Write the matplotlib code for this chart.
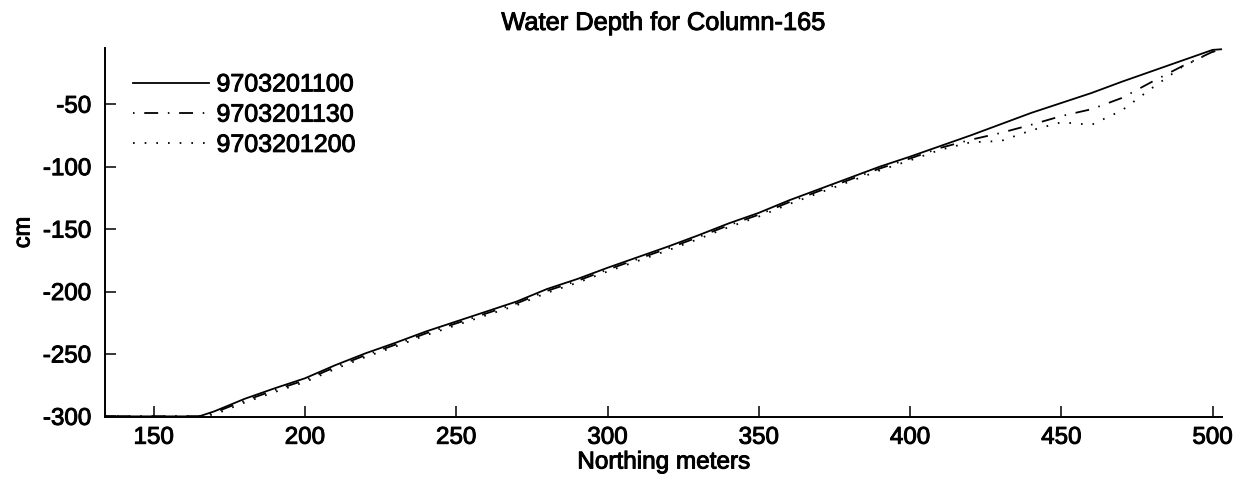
import matplotlib
matplotlib.use("Agg")
import matplotlib.pyplot as plt
import matplotlib.patheffects as pe

plt.rcParams['font.family'] = ['Liberation Sans', 'DejaVu Sans']
plt.rcParams['lines.scale_dashes'] = False
plt.rcParams['axes.unicode_minus'] = False

northing = [134, 165, 170, 180, 190, 200, 210, 220, 230, 240, 250, 260, 270, 280,
            290, 300, 310, 320, 330, 340, 350, 360, 370, 380, 390, 400, 410, 420,
            430, 440, 450, 460, 470, 480, 490, 500, 503]

depth_1100 = [-300, -300, -296, -286, -277.5, -269.5, -259, -249.5, -241, -232, -224,
              -216, -208, -198, -190, -181, -172.5, -164, -155, -145.5, -137, -127,
              -118, -109, -100, -92, -83.5, -75, -66, -57, -49, -41, -32, -23.5,
              -15, -6.5, -6]

depth_1130 = [-300, -300, -297, -287.5, -279, -271, -260.5, -251, -242.5, -233.5,
              -225.5, -217.5, -209.5, -199.5, -191.5, -182.5, -174, -165.5, -156.5,
              -147, -138.5, -128.5, -119.5, -110.5, -101.5, -93.5, -85, -78.5, -73,
              -66.5, -59.5, -54, -45, -32, -19.5, -8, -6.5]

depth_1200 = [-300, -300, -298.5, -289, -280.5, -272.5, -262, -252.5, -244, -235,
              -227, -219, -211, -201, -193, -184, -175.5, -167, -158, -148.5, -140,
              -130, -121, -112, -103, -95, -86.5, -80.5, -79.5, -71, -64.5, -66.5,
              -55, -37, -20, -8, -6.5]

labels = ['9703201100', '9703201130', '9703201200']

W, H = 1246, 488
fig = plt.figure(figsize=(W / 100, H / 100), dpi=100)
ax = fig.add_axes([105.3 / W, 1 - 417 / H, (1221.7 - 105.3) / W, (417 - 48) / H])

lw = 1.3
ax.plot(northing, depth_1100, color='black', lw=lw, linestyle='-', label=labels[0])
ax.plot(northing, depth_1130, color='black', lw=lw,
        linestyle=(0, (1.1, 7.0, 10.0, 7.0)), label=labels[1])
ax.plot(northing, depth_1200, color='black', lw=lw,
        linestyle=(0, (1.2, 7.2)), label=labels[2])

ax.set_xlim(134, 503)
ax.set_ylim(-300.5, -5)
ax.set_xticks([150, 200, 250, 300, 350, 400, 450, 500])
ax.set_yticks([-300, -250, -200, -150, -100, -50])

for s in ['top', 'right']:
    ax.spines[s].set_visible(False)
for s in ['left', 'bottom']:
    ax.spines[s].set_linewidth(1.4)

ax.tick_params(axis='both', direction='in', length=8, width=1.1, labelsize=17.4)
ax.tick_params(axis='y', pad=10)
ax.tick_params(axis='x', pad=7)

thick = [pe.withStroke(linewidth=0.7, foreground='black')]

t = ax.set_title('Water Depth for Column-165', fontsize=18.3, pad=13)
xl = ax.set_xlabel('Northing meters', fontsize=17.5, labelpad=2)
yl = ax.set_ylabel('cm', fontsize=17, labelpad=6)

leg = ax.legend(loc='upper left', bbox_to_anchor=(0.025, 0.934), frameon=False,
                fontsize=18, handlelength=3.05, handletextpad=0.28, labelspacing=0.25,
                borderpad=0, borderaxespad=0)

texts = [t, xl, yl] + leg.get_texts() + ax.get_xticklabels() + ax.get_yticklabels()
for txt in texts:
    txt.set_path_effects(thick)

fig.savefig('out.png', dpi=100)
